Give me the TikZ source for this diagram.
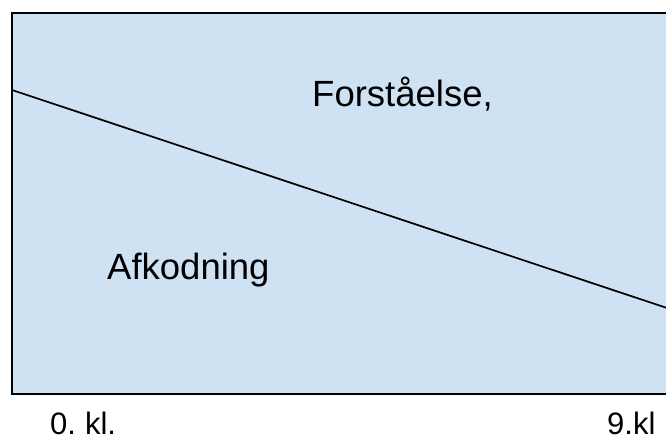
\documentclass[tikz,border=0pt]{standalone}
\usepackage{fontspec}
\setmainfont{Liberation Sans}
\definecolor{panelblue}{HTML}{CFE2F3}
\begin{document}
\begin{tikzpicture}[x=1pt,y=-1pt,
  lbl/.style={inner sep=0pt,anchor=base west,text=black},
  big/.style={lbl,font=\fontsize{36.5}{42}\selectfont},
  small/.style={lbl,font=\fontsize{31}{36}\selectfont}]
\useasboundingbox (0,0) rectangle (666,437);
\clip (0,0) rectangle (666,437);
\node[draw=black,line width=1.8pt,fill=panelblue,inner sep=0pt,minimum width=662pt,minimum height=381pt,anchor=north west] (panel) at (11,12) {};
\coordinate (lstart) at (12,90);
\coordinate (lend) at (667,308);
\draw[line width=1.7pt] (lstart) -- (lend);
\node[big] (forst) at (312,106) {Forståelse,};
\node[big] (afk) at (107,279) {Afkodning};
\node[small] (k0) at (50,434.5) {0.\hspace{-0.08em} kl.};
\node[small] (k9) at (607,434.5) {9.kl};
\end{tikzpicture}
\end{document}
